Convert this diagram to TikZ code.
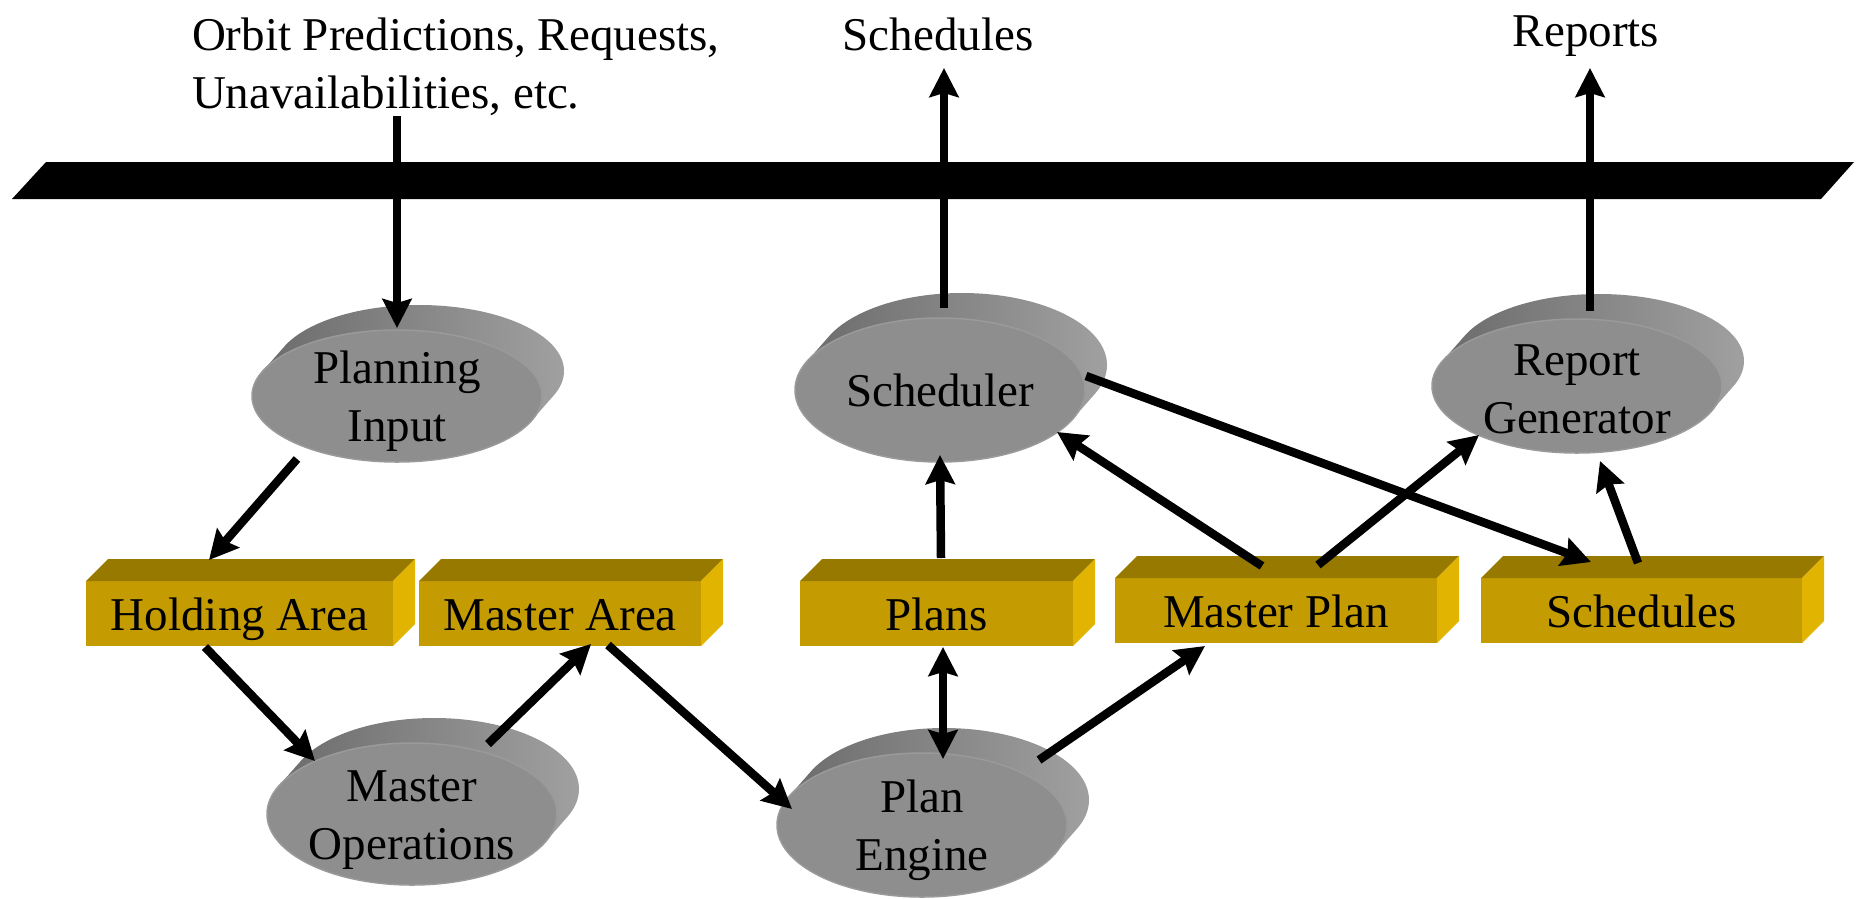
\documentclass[tikz,border=0pt]{standalone}
\usepackage{fontspec}
\setmainfont{Liberation Serif}
\usetikzlibrary{arrows.meta,calc}

\definecolor{boxfront}{HTML}{C49B00}
\definecolor{boxtop}{HTML}{987900}
\definecolor{boxside}{HTML}{E0B400}
\definecolor{discface}{HTML}{8E8E8E}
\definecolor{discrim}{HTML}{9A9A9A}
\definecolor{discL}{HTML}{6A6A6A}
\definecolor{discM}{HTML}{737373}
\definecolor{discR}{HTML}{A0A0A0}

\tikzset{
  bigtext/.style={font=\fontsize{47}{58}\selectfont},
  disctext/.style={bigtext, inner sep=0pt, outer sep=0pt, align=center},
  storebox/.style={bigtext, rectangle, fill=boxfront, inner sep=0pt, outer sep=0pt,
    minimum height=65pt, text height=35pt, text depth=1pt},
  toptext/.style={bigtext, inner sep=0pt, outer sep=0pt},
  tip/.tip={Stealth[length=29pt,width=29pt,inset=4pt]},
  flow/.style={line width=8.5pt, -tip},
  flowboth/.style={line width=8.5pt, tip-tip},
}

% a process drawn as a thick disc: #1 name, #2 x, #3 y, #4 y radius, #5 text, #6 text shift
\newcommand\disc[6]{%
  \shade[left color=discL, middle color=discM, right color=discR]
    \foreach \t in {0,0.125,...,1} { ({#2+22*\t},{#3-25*\t}) ellipse [x radius=145, y radius=#4] };
  \filldraw[fill=discface, draw=discrim, line width=1.5pt] (#2,#3) ellipse [x radius=145, y radius=#4];
  \node[disctext, yshift=#6] (#1) at (#2,#3) {#5};
}

% a data store drawn as a bar with depth: #1 name, #2 x, #3 y, #4 width, #5 text
\newcommand\store[5]{%
  \node[storebox, minimum width=#4pt] (#1) at (#2,#3) {#5};
  \fill[boxtop] (#1.north west) -- ++(22,-22) -- ($(#1.north east)+(22,-22)$) -- (#1.north east) -- cycle;
  \fill[boxside] (#1.north east) -- ++(22,-22) -- ($(#1.south east)+(22,-22)$) -- (#1.south east) -- cycle;
}

\begin{document}
\begin{tikzpicture}[x=1pt, y=-1pt]
\useasboundingbox (0,0) rectangle (1860,898);

% communication bus
\fill[black] (12,199) -- (46,162) -- (1854,162) -- (1821,199) -- cycle;

% processes
\disc{pi}{397}{396}{66}{Planning\\Input}{-5pt}
\disc{sch}{940}{390}{72}{Scheduler}{0pt}
\disc{rg}{1577}{386}{67}{Report\\Generator}{-3pt}
\disc{mo}{412}{814}{71}{Master\\Operations}{-6pt}
\disc{pe}{922}{825}{72}{Plan\\Engine}{-5pt}

% data stores
\store{hold}{239.5}{613.5}{307}{Holding Area}
\store{marea}{560}{613.5}{282}{Master Area}
\store{plans}{936.5}{613.5}{273}{Plans}
\store{mplan}{1276}{610.5}{322}{Master Plan}
\store{sbox}{1641.5}{610.5}{321}{Schedules}

% external inputs and outputs
\node[toptext, anchor=north west, align=left] (src) at (192,18)
  {Orbit Predictions, Requests,\\Unavailabilities, etc.};
\node[toptext, anchor=base] (outsched) at (938,50) {Schedules};
\node[toptext, anchor=base] (outrep) at (1586,46) {Reports};

\coordinate (feed) at (397,116);
\coordinate (outs) at (944,68);
\coordinate (outr) at (1590,68);

% data flows
\draw[flow] (feed) -- ($(pi.center)+(0,-73)$);
\draw[flow] ($(pi.center)+(-100,58)$) -- ($(hold.center)+(-30.5,-53.5)$);
\draw[flow] ($(hold.center)+(-34.5,33.5)$) -- ($(mo.center)+(-97,-59)$);
\draw[flow] ($(mo.center)+(76,-76)$) -- ($(marea.center)+(31,30.5)$);
\draw[flow] ($(marea.center)+(48,31.5)$) -- ($(pe.center)+(-130,-21)$);
\draw[flowboth] ($(plans.center)+(6.5,33.5)$) -- ($(pe.center)+(21,-71)$);
\draw[flow] ($(plans.center)+(4.5,-55.5)$) -- ($(sch.center)+(0,65)$);
\draw[flow] ($(sch.center)+(4,-82)$) -- (outs);
\draw[flow] ($(pe.center)+(117,-70)$) -- ($(mplan.center)+(-71,35.5)$);
\draw[flow] ($(mplan.center)+(-14,-44.5)$) -- ($(sch.center)+(117,42)$);
\draw[flow] ($(mplan.center)+(42,-45.5)$) -- ($(rg.center)+(-98,46)$);
\draw[flow] ($(sch.center)+(146,-14)$) -- ($(sbox.center)+(-50.5,-48.5)$);
\draw[flow] ($(sbox.center)+(-3.5,-47.5)$) -- ($(rg.center)+(23,72)$);
\draw[flow] ($(rg.center)+(13,-78)$) -- (outr);
\end{tikzpicture}
\end{document}
